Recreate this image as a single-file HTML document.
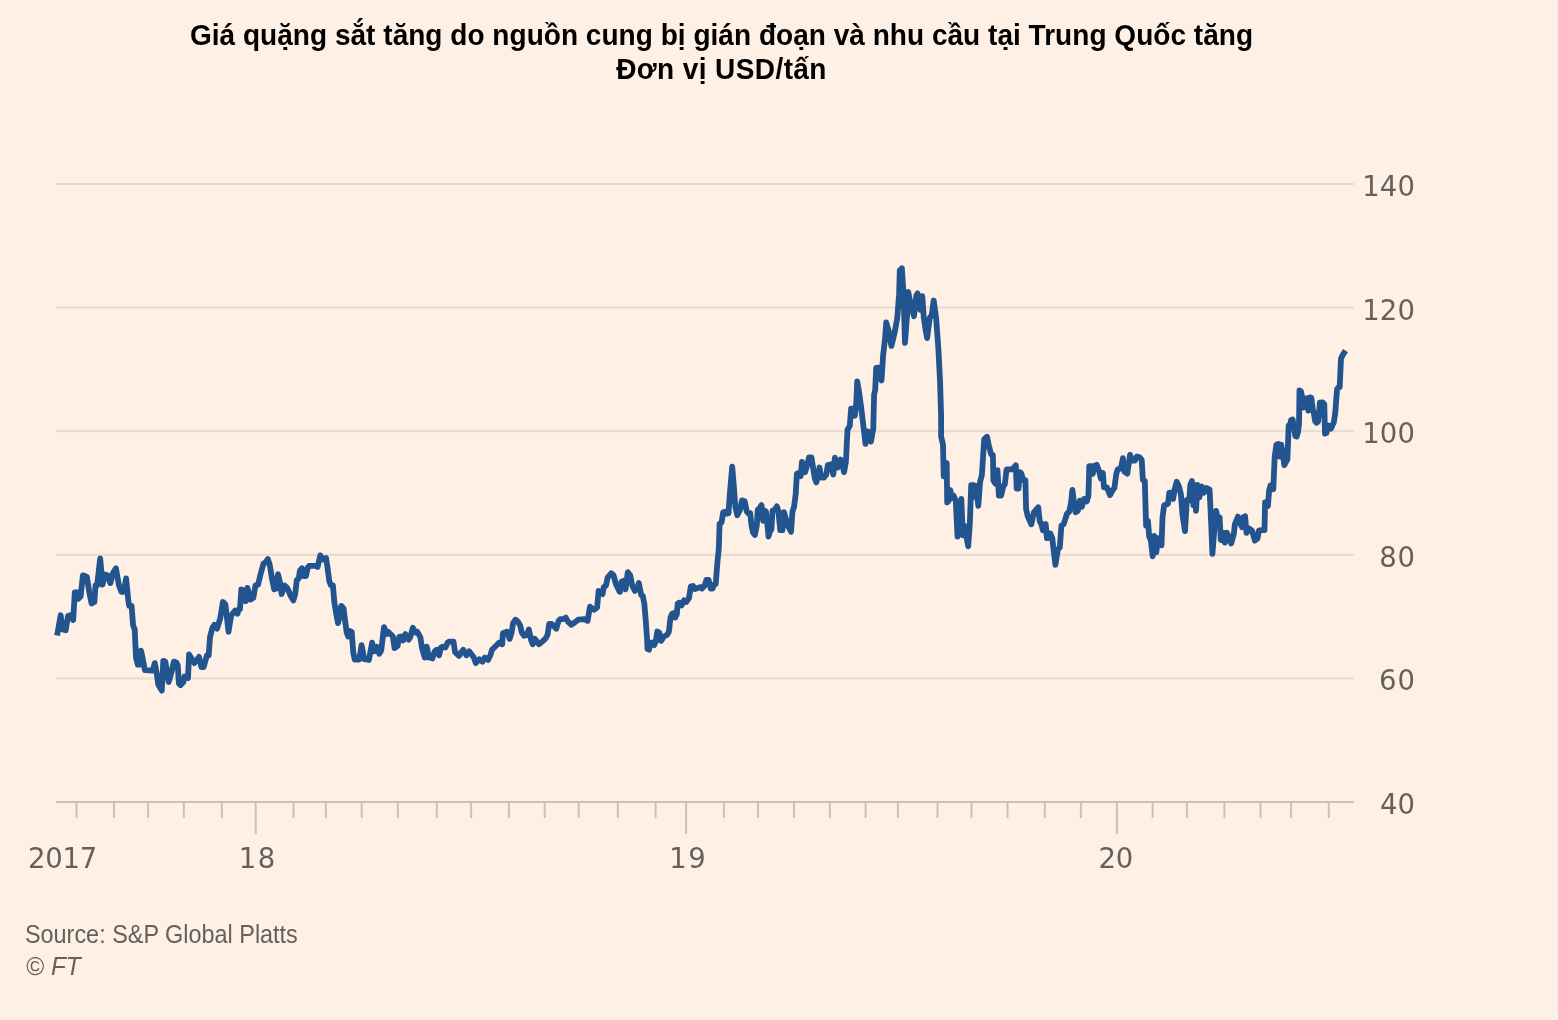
<!DOCTYPE html>
<html lang="vi"><head><meta charset="utf-8"><title>Giá quặng sắt</title>
<style>
html,body{margin:0;padding:0}
body{width:1558px;height:1020px;background:#fef0e4;position:relative;overflow:hidden;font-family:"Liberation Sans",Arial,sans-serif}
.title{position:absolute;left:0;width:1443px;text-align:center;font-weight:bold;font-size:29px;line-height:34px;color:#000;white-space:nowrap;transform-origin:721.5px 0;transform:scaleX(0.9655)}
.t1{top:18px;letter-spacing:0.03px}
.t2{top:52px;letter-spacing:0.42px}
</style></head><body>
<div class="title t1">Giá quặng sắt tăng do nguồn cung bị gián đoạn và nhu cầu tại Trung Quốc tăng</div>
<div class="title t2">Đơn vị USD/tấn</div>
<svg width="1558" height="1020" viewBox="0 0 1558 1020" style="position:absolute;left:0;top:0">
<line x1="56" x2="1354" y1="184" y2="184" stroke="#e6d9ce" stroke-width="2"/>
<line x1="56" x2="1354" y1="307.6" y2="307.6" stroke="#e6d9ce" stroke-width="2"/>
<line x1="56" x2="1354" y1="431.2" y2="431.2" stroke="#e6d9ce" stroke-width="2"/>
<line x1="56" x2="1354" y1="554.8" y2="554.8" stroke="#e6d9ce" stroke-width="2"/>
<line x1="56" x2="1354" y1="678.4" y2="678.4" stroke="#e6d9ce" stroke-width="2"/>
<line x1="56" x2="1354" y1="802.0" y2="802.0" stroke="#ccc1b7" stroke-width="2"/>
<line x1="76.5" x2="76.5" y1="802.0" y2="818" stroke="#ccc1b7" stroke-width="2"/>
<line x1="114.0" x2="114.0" y1="802.0" y2="818" stroke="#ccc1b7" stroke-width="2"/>
<line x1="148.1" x2="148.1" y1="802.0" y2="818" stroke="#ccc1b7" stroke-width="2"/>
<line x1="183.8" x2="183.8" y1="802.0" y2="818" stroke="#ccc1b7" stroke-width="2"/>
<line x1="221.8" x2="221.8" y1="802.0" y2="818" stroke="#ccc1b7" stroke-width="2"/>
<line x1="255.7" x2="255.7" y1="802.0" y2="834" stroke="#ccc1b7" stroke-width="2"/>
<line x1="293.5" x2="293.5" y1="802.0" y2="818" stroke="#ccc1b7" stroke-width="2"/>
<line x1="325.8" x2="325.8" y1="802.0" y2="818" stroke="#ccc1b7" stroke-width="2"/>
<line x1="361.7" x2="361.7" y1="802.0" y2="818" stroke="#ccc1b7" stroke-width="2"/>
<line x1="397.8" x2="397.8" y1="802.0" y2="818" stroke="#ccc1b7" stroke-width="2"/>
<line x1="436.8" x2="436.8" y1="802.0" y2="818" stroke="#ccc1b7" stroke-width="2"/>
<line x1="471.1" x2="471.1" y1="802.0" y2="818" stroke="#ccc1b7" stroke-width="2"/>
<line x1="508.9" x2="508.9" y1="802.0" y2="818" stroke="#ccc1b7" stroke-width="2"/>
<line x1="544.7" x2="544.7" y1="802.0" y2="818" stroke="#ccc1b7" stroke-width="2"/>
<line x1="578.7" x2="578.7" y1="802.0" y2="818" stroke="#ccc1b7" stroke-width="2"/>
<line x1="617.8" x2="617.8" y1="802.0" y2="818" stroke="#ccc1b7" stroke-width="2"/>
<line x1="655.6" x2="655.6" y1="802.0" y2="818" stroke="#ccc1b7" stroke-width="2"/>
<line x1="686.1" x2="686.1" y1="802.0" y2="834" stroke="#ccc1b7" stroke-width="2"/>
<line x1="723.9" x2="723.9" y1="802.0" y2="818" stroke="#ccc1b7" stroke-width="2"/>
<line x1="758.0" x2="758.0" y1="802.0" y2="818" stroke="#ccc1b7" stroke-width="2"/>
<line x1="794.0" x2="794.0" y1="802.0" y2="818" stroke="#ccc1b7" stroke-width="2"/>
<line x1="829.8" x2="829.8" y1="802.0" y2="818" stroke="#ccc1b7" stroke-width="2"/>
<line x1="865.6" x2="865.6" y1="802.0" y2="818" stroke="#ccc1b7" stroke-width="2"/>
<line x1="897.9" x2="897.9" y1="802.0" y2="818" stroke="#ccc1b7" stroke-width="2"/>
<line x1="937.5" x2="937.5" y1="802.0" y2="818" stroke="#ccc1b7" stroke-width="2"/>
<line x1="971.5" x2="971.5" y1="802.0" y2="818" stroke="#ccc1b7" stroke-width="2"/>
<line x1="1007.5" x2="1007.5" y1="802.0" y2="818" stroke="#ccc1b7" stroke-width="2"/>
<line x1="1044.8" x2="1044.8" y1="802.0" y2="818" stroke="#ccc1b7" stroke-width="2"/>
<line x1="1080.9" x2="1080.9" y1="802.0" y2="818" stroke="#ccc1b7" stroke-width="2"/>
<line x1="1116.9" x2="1116.9" y1="802.0" y2="834" stroke="#ccc1b7" stroke-width="2"/>
<line x1="1152.6" x2="1152.6" y1="802.0" y2="818" stroke="#ccc1b7" stroke-width="2"/>
<line x1="1186.9" x2="1186.9" y1="802.0" y2="818" stroke="#ccc1b7" stroke-width="2"/>
<line x1="1224.4" x2="1224.4" y1="802.0" y2="818" stroke="#ccc1b7" stroke-width="2"/>
<line x1="1260.5" x2="1260.5" y1="802.0" y2="818" stroke="#ccc1b7" stroke-width="2"/>
<line x1="1291.0" x2="1291.0" y1="802.0" y2="818" stroke="#ccc1b7" stroke-width="2"/>
<line x1="1328.8" x2="1328.8" y1="802.0" y2="818" stroke="#ccc1b7" stroke-width="2"/>
<path d="M57.1,635.5 60.7,615.3 62.5,629.4 65.7,630.2 68,616.1 70.4,615.3 73.2,620 74.8,592.5 77.5,592.5 78.2,598.8 80.6,596.5 82.9,575.3 86.9,576.9 89.2,591.8 91.6,603.5 94.4,602 95.5,585.5 97.1,585.5 100.2,558.5 102.5,584.7 104.9,574.5 107.3,575.3 110.4,583.1 112.7,573.7 115.9,568.2 119,585.5 121.4,591.8 123.7,591.8 126.1,578.4 128.4,601.2 129.2,605.9 131.6,605.9 133.1,625.5 134.7,629.4 136,657.6 137.8,664.7 139.7,664.7 141,650.6 142.5,657.6 144.9,670.2 152.7,670.5 154.8,663.1 156.7,673.3 158.2,684.3 161.8,690.6 163.3,660.8 165.3,661.6 168.7,682 171.6,671.8 173.9,661.6 176.3,662.4 177.8,665.5 178.9,683.5 180.5,685.1 183.3,682 184.6,676.5 188,678 189.1,654.5 194.3,663.1 199,656.9 201.4,667.1 203.7,667.1 206.9,655.3 208.7,655.3 210,637.3 212.4,627.8 214.4,624.7 217.1,628.6 220.2,618.4 222.9,602 225.4,604.3 228.5,631.8 231.2,615.3 235.1,610.6 237.5,613.7 239,609 240,609 241.3,589.4 243.5,590.2 245.5,601.2 247.5,587.8 250.2,599.6 253.3,598 255.4,585.5 258,584.7 260.1,576.1 263.5,563.5 265.1,562.7 267.9,559.1 269.8,565.1 272.2,580 274.2,589.4 276.1,588.6 278,574.2 280,582.4 281.6,594.1 284.7,585.5 287.1,587.8 291,596.5 293.3,600.4 295.2,594.1 296.8,580 298.8,578.4 299.9,570.6 302,568.2 303.5,576.1 305.9,576.1 307.8,567.5 309,565.9 315.3,565.9 317.6,567 320.3,555.4 322.4,559.6 326,558 327.5,567.5 329.4,581.6 331,585.5 332.9,585.5 334.4,602.7 336.5,615.3 338,623.1 339.6,616.9 341.2,605.9 343.5,608.2 345.4,623.1 346.7,632.5 348.2,636.5 349.8,631 351.7,631.8 353.3,652.9 354.8,659.5 359.2,659.5 361.6,645.1 364.2,659.2 368.9,660 372.1,642.7 374.1,651.4 376.8,646.7 379.3,653.7 381.2,650.6 384,627.1 386.7,634.1 388.2,631.8 392.9,636.5 394.5,648.2 397.6,645.9 399.2,636.9 401.6,636.5 403.1,640.4 405.5,634.1 408.6,639.6 410.2,637.3 412.9,627.8 415.4,632.5 417.3,631.8 420.4,637.3 422,648.2 424.8,657.6 426.7,646.7 429,657.6 430,656.9 432.4,658.4 434.7,651.4 436.6,649.8 439.1,655.3 441,647.5 442.9,646.7 445.4,647.5 447.6,642.7 449.1,641.6 453.5,641.6 455.1,652.2 459,655.8 461.4,652.2 463.3,649.8 466.4,655.3 469.2,651.4 471.6,654.5 473.9,657.6 475.8,663.1 479.4,659.2 482.5,661.6 484.9,657.6 488,660 490.4,655.3 492,649.8 495.1,646.7 499,642.7 502.2,644.3 502.9,633.3 506.9,631.8 509.7,638.8 511.6,632.5 513.1,623.1 515.5,619.7 517.8,621.6 520.2,625.5 521.8,632.5 524.1,635.7 526.9,634.9 528.8,629.4 531.2,640.4 532.7,644.3 534.8,638.8 539,644.3 542.2,641.6 545.3,638.8 547.6,634.9 549.2,623.9 551.6,623.9 556.3,628.6 558.6,620.8 560.2,619.2 563.3,619.2 565.7,617.6 568,621.6 571.2,624.7 574.3,622.8 578.2,619.7 584.5,619.2 587.6,620.8 590,606.7 593.9,609.8 597.1,607.5 598.6,591 602.5,594.1 603.8,587.1 606,585.5 607.6,577.6 611.2,573.3 613.5,575.3 615.9,583.9 619.5,591.5 620,591.8 621.6,581.6 623.5,580.8 625.5,589.4 627.8,572.2 630.2,575.3 632.2,585.5 634.9,591 636.9,588.6 638.8,583.1 641.2,594.9 642.7,595.7 644.3,603.5 645.9,622.4 647,638 647.5,649 649,649.8 650.6,642.7 652.9,642.7 654.2,645.1 655.8,641.2 657.3,631.5 659.2,632.5 661.1,640.9 663.9,636.5 667.1,634.9 668.9,631.8 670.5,617.6 672.1,613.7 674.1,612.9 675.2,617.6 676.8,614.5 677.7,603.5 679.3,602.7 681.5,605.4 684,600.4 686.2,602 689,598 690.9,586.3 692.9,586 695,589.1 700.8,587.1 701.9,588.6 704.7,585.5 706.3,580 708.6,580 710.7,588.6 712.5,588.6 714.1,584.7 715.7,583.9 717.6,560 718.8,549 719.6,523.9 721.6,522.4 723.2,512.2 725.1,511.7 727,513.7 728.5,513.3 729.8,494.1 732.2,466.7 734.2,491 735.3,506.7 737.3,515.3 740,509.8 742,500.4 744.7,501.2 746.7,511.4 748.6,513.7 750.2,513.3 751.5,525.5 753,532.5 754.9,534.9 756.8,525.5 757.7,509.8 759.6,508.2 761.5,505.1 763.1,520.8 764.6,510.6 765.9,511.4 767.8,528.6 768.5,536.5 769.8,531.8 771.4,529.4 772.5,510.6 774.5,509.8 776.9,506.4 778.4,511.4 780.3,530.2 782.4,530.2 783.9,512.2 786,519.2 787.8,525.5 791,531.8 792.5,511.4 794.1,506.7 795.7,494.1 796.9,473.7 798.8,472.9 800.7,476.1 802,462 803.8,467.5 805.1,472.2 807,465.9 809,457.3 811.4,457.3 813.3,469 814.8,478.4 816.4,482.4 818.4,473.7 819.5,467.5 821.1,477.6 823.9,477.6 826.3,474.5 827.8,465.1 831,464.3 833.3,474.5 834.9,457.7 837.7,467.5 840.4,459.6 842,462 844,472.2 845.9,462 847.5,429.8 849.8,425.9 851.1,408.6 853.3,409.4 854.8,415.7 856.4,401.6 857.2,381.3 859.2,393 861.1,407.1 863.1,423.5 865.5,443.9 867.8,431.4 871,441.6 873.3,428.2 874.1,394.6 875.2,389.9 876.2,367.9 878.8,367.6 881.5,380.5 883.1,355.4 885.1,338.1 886.2,322.5 889,331.9 891.4,346 894.5,333.4 897.3,317.7 899.1,294.2 899.8,270.4 901.9,268.3 903.5,294.2 905,342.8 907.1,314.6 908.2,291.9 910.2,302.1 914,316.2 916.3,295.5 917.6,293.4 920.4,309.9 922.3,296.1 923.8,317.7 925.4,328.7 927.1,338.1 929.8,317.7 931.7,315.4 933.7,300.5 936.1,317.7 938.4,349.1 940,380.5 941.1,415 941.1,436.5 943,444.7 943.7,476.3 945.1,462.5 946.7,463.2 947.2,502.4 948.5,501 950.3,490 951.7,498.2 953.6,495.5 955.8,501 957.5,536.7 959.5,516.1 961.3,498.9 962.9,535.3 964.3,525.7 968.2,546.3 969.8,524.3 971.2,485.2 973.6,485.2 974.6,496.9 976,485.9 978.3,505.8 980.1,481.8 981.9,474.9 984.2,439.2 987,436.7 989,446.1 991.1,454.3 992.9,455 993.4,480.4 995.6,483.8 997.5,470.1 998.9,495.5 1001.1,495.5 1003.4,485.9 1004.8,484.5 1006.6,469.4 1012.4,469.4 1015.8,465.3 1016.7,488.6 1018.5,488.6 1019.9,472.2 1021.3,473.5 1023.3,480.4 1025.4,480.1 1026.1,509.2 1027.7,516.1 1031.3,524.3 1033.9,512.4 1038.2,507.3 1039.7,521 1041.3,524.1 1042.9,530.4 1045.7,524.1 1046.9,538.2 1048.5,538.2 1050.4,533.5 1052.3,538.2 1053.5,549.2 1055.4,564.9 1057.9,549.2 1059.8,547.6 1061.4,525.7 1063.7,524.1 1066.9,513.9 1069.2,511.6 1071.1,502.2 1072.4,489.9 1074.2,503.7 1075.5,512.4 1077.8,510.8 1079.9,500.6 1081.8,506.9 1084.1,499 1086.8,501.4 1088.4,495.9 1089.3,466.1 1092,466.1 1092.7,473.9 1094.3,466.1 1096.7,464.8 1099,470.8 1100.9,478.6 1102.9,473.1 1104,487.3 1106.9,487.3 1110,495.1 1112.4,490.4 1114.4,488 1116.3,473.9 1117.8,469.2 1121,468.4 1122.9,458.2 1124.4,471.6 1127.3,473.6 1130.1,454.8 1132,460.6 1134.8,460.6 1137,456.4 1139.8,457.5 1141.7,459.8 1142.9,480.2 1144.8,481 1146.1,525.7 1148,521 1149.2,536.7 1150.8,539.8 1152.7,556.3 1154.2,535.9 1156.3,552.4 1157.8,538.2 1159.4,539 1161.5,545.3 1162.5,517.8 1164.1,505.3 1166.5,504.5 1168,503.7 1169.3,492.7 1171.2,492.7 1173.1,499 1174.6,489.6 1176.7,481.8 1179,486.5 1180.9,494.3 1182.5,514.7 1185,531.2 1186.9,499.8 1189.2,500.6 1190.3,484.9 1191.9,481 1193.5,505.3 1194.7,484.9 1196,510.8 1197.5,484.9 1199.4,497.5 1201.8,486.5 1203.8,492.7 1206.5,488 1209.6,489.6 1211.2,524.1 1212.4,553.9 1214.3,530 1216.1,510.9 1218,520.1 1219.6,517.3 1220.8,539.9 1222.8,540.6 1223.9,532.8 1225,542.7 1227,532.8 1228.8,537.1 1231.2,543.4 1233.8,534.2 1234.9,524.4 1238,516.6 1240.1,522.9 1242,527.2 1243.4,517.3 1245.1,516.2 1246.5,532.8 1249.3,528.6 1252.1,530.7 1254.9,540.6 1257.5,538.5 1258.9,530.7 1262,530 1264.5,530 1265.1,502.5 1267.9,506 1269.1,490.5 1270.5,485.5 1273.3,489.1 1274.7,456.6 1276.4,444.6 1278.2,443.9 1279.6,456.6 1281.1,444.6 1283.2,456.6 1284.3,465.1 1287.4,459.4 1288.7,425.3 1290.2,424.3 1291.2,419.9 1292.6,419.4 1294.1,428.2 1295.3,436.1 1296.6,436.6 1298,432.2 1299,424.3 1299.5,390.5 1301,391.5 1302.5,398.8 1303.4,407.6 1305.4,398.8 1306.9,398.3 1308.3,410.6 1309.8,397.4 1311.3,397.8 1312.7,408.6 1313.9,413.5 1315.2,421.4 1316.7,422.8 1318.1,421.4 1319.1,414.5 1319.8,402.7 1322.5,402.3 1324.3,404.2 1325,433.6 1326.5,433.1 1327.5,425.3 1328.9,425.8 1330.9,428.7 1332.4,425.3 1333.8,422.4 1335.3,412.5 1336.3,398.8 1337.1,389 1338.7,387.1 1339.7,387.1 1340.4,371.4 1341,358.6 1342.6,355.2 1345.6,350.6" fill="none" stroke="#22548f" stroke-width="5.8" stroke-linejoin="round" stroke-linecap="butt"/>
<g font-family="'Liberation Sans', Arial, sans-serif" fill="#66605c">
<text x="1362.13" y="196.00" font-family="'DejaVu Sans', 'Liberation Sans', sans-serif" font-size="27.5" textLength="52.84" lengthAdjust="spacing">140</text>
<text x="1362.13" y="319.60" font-family="'DejaVu Sans', 'Liberation Sans', sans-serif" font-size="27.5" textLength="52.84" lengthAdjust="spacing">120</text>
<text x="1362.13" y="443.20" font-family="'DejaVu Sans', 'Liberation Sans', sans-serif" font-size="27.5" textLength="52.84" lengthAdjust="spacing">100</text>
<text x="1379.23" y="566.80" font-family="'DejaVu Sans', 'Liberation Sans', sans-serif" font-size="27.5" textLength="35.72" lengthAdjust="spacing">80</text>
<text x="1378.96" y="690.40" font-family="'DejaVu Sans', 'Liberation Sans', sans-serif" font-size="27.5" textLength="36.00" lengthAdjust="spacing">60</text>
<text x="1380.00" y="814.00" font-family="'DejaVu Sans', 'Liberation Sans', sans-serif" font-size="27.5" textLength="34.94" lengthAdjust="spacing">40</text>
<text x="28.12" y="867.85" font-family="'DejaVu Sans', 'Liberation Sans', sans-serif" font-size="27.5" textLength="69.24" lengthAdjust="spacing">2017</text>
<text x="238.68" y="867.85" font-family="'DejaVu Sans', 'Liberation Sans', sans-serif" font-size="27.5" textLength="36.53" lengthAdjust="spacing">18</text>
<text x="669.23" y="867.85" font-family="'DejaVu Sans', 'Liberation Sans', sans-serif" font-size="27.5" textLength="36.44" lengthAdjust="spacing">19</text>
<text x="1098.50" y="867.85" font-family="'DejaVu Sans', 'Liberation Sans', sans-serif" font-size="27.5" textLength="34.85" lengthAdjust="spacing">20</text>
<text x="24.95" y="943.05" font-size="25" textLength="272.89" lengthAdjust="spacingAndGlyphs">Source: S&amp;P Global Platts</text>
<text x="26.20" y="974.51" font-size="25" textLength="54.54" lengthAdjust="spacingAndGlyphs">© <tspan font-style="italic">FT</tspan></text>
</g>
</svg>
</body></html>
